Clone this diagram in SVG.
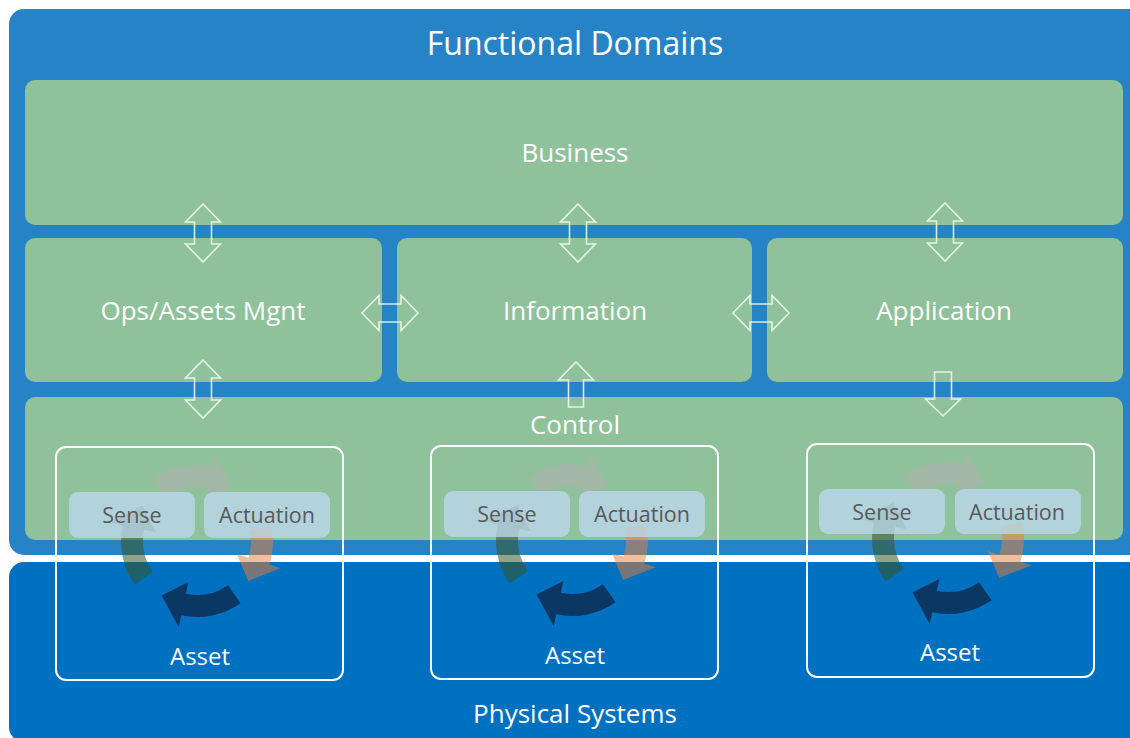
<svg xmlns="http://www.w3.org/2000/svg" width="1130" height="738" viewBox="0 0 1130 738">
<style>
.t{font-family:"Open Sans","Liberation Sans",sans-serif;fill:#fff;text-anchor:middle}
.s{font-family:"Open Sans","Liberation Sans",sans-serif;fill:#595959;text-anchor:middle;font-size:21.5px}
.g{fill:#8fc19a}
.sb{fill:#bdd7ee;opacity:.78}
.ab{fill:none;stroke:#fff;stroke-width:2}
.da{fill:none;stroke:#f2fff2;stroke-opacity:.85;stroke-width:1.6}
</style>
<defs>
<g id="cyc">
<path d="M-43.6,-62.3 A76,76 0 0 1 15.8,-74.3 L18.3,-86.1 L35.4,-54.5 L8.7,-41.1 L11.2,-52.8 A54,54 0 0 0 -31,-44.2 Z" fill="#b0b0b0" fill-opacity=".6"/>
<path d="M74.3,-15.8 A76,76 0 0 1 72.3,23.5 L83.7,27.2 L51.2,40 L39.9,13 L51.4,16.7 A54,54 0 0 0 52.8,-11.2 Z" fill="#ed7d31" fill-opacity=".5"/>
<path d="M43.6,62.3 A76,76 0 0 1 -15.8,74.3 L-18.3,86.1 L-35.4,54.5 L-8.7,41.1 L-11.2,52.8 A54,54 0 0 0 31,44.2 Z" fill="#0b3763"/>
<path d="M-62.3,43.6 A76,76 0 0 1 -74.3,-15.8 L-86.1,-18.3 L-54.5,-35.4 L-41.1,-8.7 L-52.8,-11.2 A54,54 0 0 0 -44.2,31 Z" fill="#375623" fill-opacity=".55"/>
</g>
<path id="dv" d="M0,0 L17.5,18 L8.5,18 L8.5,40 L17.5,40 L0,58 L-17.5,40 L-8.5,40 L-8.5,18 L-17.5,18 Z"/>
<path id="dh" d="M0,0 L17,-17.5 L17,-9 L39,-9 L39,-17.5 L56,0 L39,17.5 L39,9 L17,9 L17,17.5 Z"/>
</defs>

<g id="functional-domains">
<rect x="9" y="9" width="1140" height="546" rx="15" fill="#2683c6"/>
<text class="t" x="575" y="55" font-size="32">Functional Domains</text>
</g>
<g id="physical-systems">
<rect x="9" y="562" width="1140" height="180" rx="15" fill="#0070c0"/>
<text class="t" x="575" y="723" font-size="26">Physical Systems</text>
</g>
<g id="business">
<rect class="g" x="25" y="80" width="1098" height="145" rx="10"/>
<text class="t" x="575" y="162" font-size="26">Business</text>
</g>
<g id="ops">
<rect class="g" x="25" y="238" width="357" height="144" rx="10"/>
<text class="t" x="203" y="320" font-size="26">Ops/Assets Mgnt</text>
</g>
<g id="information">
<rect class="g" x="397" y="238" width="355" height="144" rx="10"/>
<text class="t" x="575" y="320" font-size="26">Information</text>
</g>
<g id="application">
<rect class="g" x="767" y="238" width="356" height="144" rx="10"/>
<text class="t" x="944" y="320" font-size="26">Application</text>
</g>
<g id="control">
<rect class="g" x="25" y="397" width="1098" height="143" rx="10"/>
<text class="t" x="575" y="434" font-size="26">Control</text>
</g>

<g id="connectors">
<use href="#dv" x="203" y="204" class="da"/>
<use href="#dv" x="578" y="204" class="da"/>
<use href="#dv" x="945" y="203" class="da"/>
<use href="#dv" x="203" y="360" class="da"/>
<use href="#dh" x="362" y="313" class="da"/>
<use href="#dh" x="733" y="313" class="da"/>
<path class="da" d="M576,362 L593.5,380 L583.5,380 L583.5,407 L568.5,407 L568.5,380 L558.5,380 Z"/>
<path class="da" d="M943,416 L960.5,399 L951.5,399 L951.5,372 L934.5,372 L934.5,399 L925.5,399 Z"/>
</g>

<g id="asset1">
<use href="#cyc" x="197" y="541"/>
<rect class="sb" x="69" y="492" width="126" height="46" rx="9"/>
<rect class="sb" x="204" y="492" width="126" height="46" rx="9"/>
<text class="s" x="132" y="523">Sense</text>
<text class="s" x="267" y="523">Actuation</text>
<rect class="ab" x="56" y="447" width="287" height="233" rx="10"/>
<text class="t" x="200" y="665" font-size="24">Asset</text>
</g>
<g id="asset2">
<use href="#cyc" x="572" y="540"/>
<rect class="sb" x="444" y="491" width="126" height="46" rx="9"/>
<rect class="sb" x="579" y="491" width="126" height="46" rx="9"/>
<text class="s" x="507" y="522">Sense</text>
<text class="s" x="642" y="522">Actuation</text>
<rect class="ab" x="431" y="446" width="287" height="233" rx="10"/>
<text class="t" x="575" y="664" font-size="24">Asset</text>
</g>
<g id="asset3">
<use href="#cyc" x="948" y="538"/>
<rect class="sb" x="819" y="489" width="126" height="45" rx="9"/>
<rect class="sb" x="955" y="489" width="126" height="45" rx="9"/>
<text class="s" x="882" y="520">Sense</text>
<text class="s" x="1017" y="520">Actuation</text>
<rect class="ab" x="807" y="444" width="287" height="233" rx="10"/>
<text class="t" x="950" y="661" font-size="24">Asset</text>
</g>
</svg>
